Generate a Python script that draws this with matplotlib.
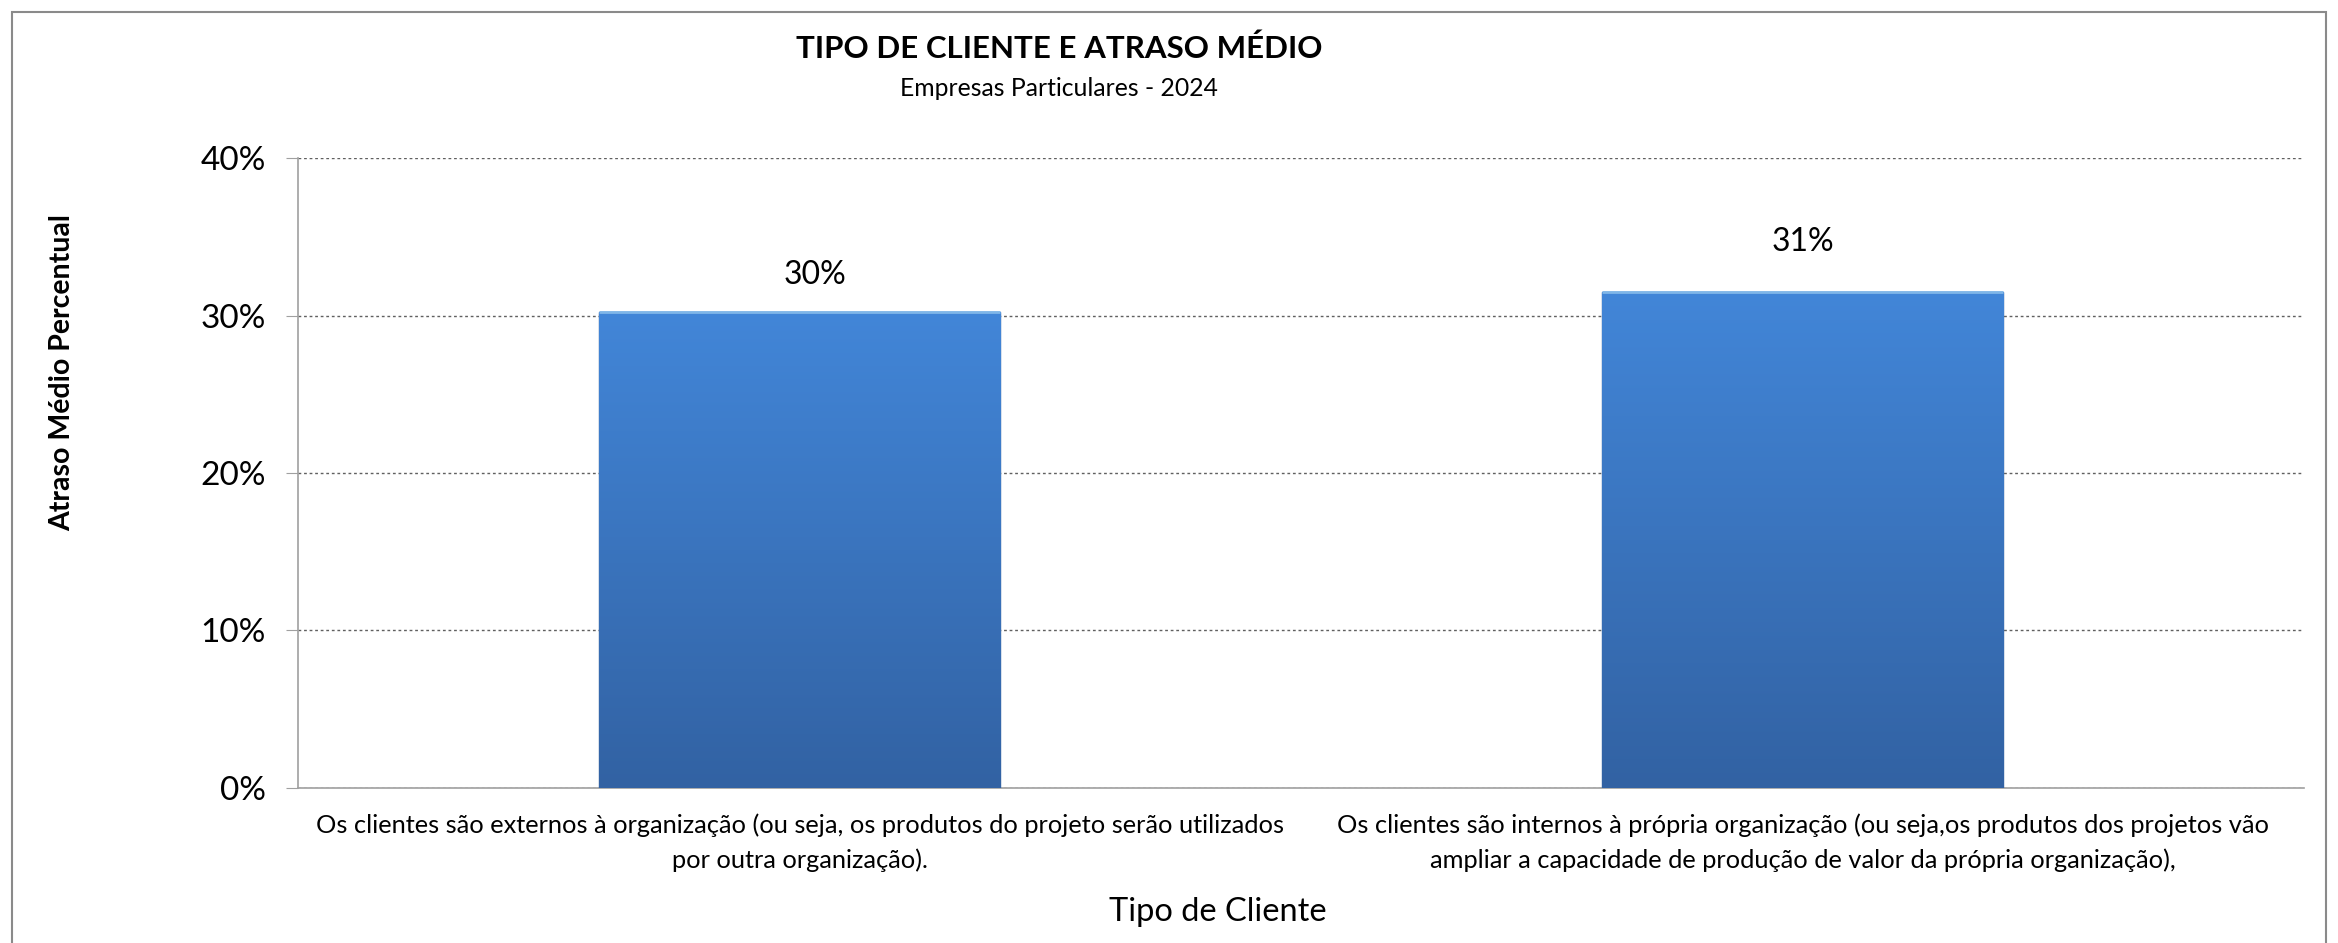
import numpy as np
import matplotlib
matplotlib.use("Agg")
import matplotlib.pyplot as plt
from matplotlib.colors import LinearSegmentedColormap
from matplotlib.patches import Rectangle

categorias = [
    "Os clientes são externos à organização (ou seja, os produtos do projeto serão utilizados\npor outra organização).",
    "Os clientes são internos à própria organização (ou seja,os produtos dos projetos vão\nampliar a capacidade de produção de valor da própria organização),",
]
atraso = [0.302, 0.315]
rotulos = ["30%", "31%"]
yticks = [0, 0.1, 0.2, 0.3, 0.4]

plt.rcParams['font.family'] = ['Lato', 'DejaVu Sans']

fig = plt.figure(figsize=(23.38, 9.43), dpi=100)
ax = fig.add_axes([0.1275, 0.1644, 0.858, 0.668])

x = np.arange(len(categorias))
bars = ax.bar(x, atraso, width=0.4, color='#3f7acb', edgecolor='#2f5f9a', linewidth=1.0, zorder=3)

# vertical gradient inside each bar
grad = LinearSegmentedColormap.from_list('g', ['#3262a3', '#4286d8'])
for b in bars:
    x0, y0 = b.get_x(), b.get_y()
    w, h = b.get_width(), b.get_height()
    im = ax.imshow(np.linspace(0, 1, 256).reshape(-1, 1), cmap=grad, origin='lower',
                   extent=[x0, x0 + w, y0, y0 + h], aspect='auto', zorder=3.5)
    im.set_clip_path(b)
    ax.plot([x0, x0 + w], [y0 + h, y0 + h], color='#7fb6e8', lw=2, zorder=4, solid_capstyle='butt')

# data labels (offsets in points, as placed in the original)
offsets = [(11, 16), (0, 25)]
for b, lab, off in zip(bars, rotulos, offsets):
    ax.annotate(lab, (b.get_x() + b.get_width() / 2, b.get_height()), xytext=off,
                textcoords='offset points', ha='center', va='bottom', fontsize=23)

ax.set_xlim(-0.5, 1.5)
ax.set_ylim(0, 0.4)
ax.set_yticks(yticks)
ax.set_yticklabels([f"{int(round(v * 100))}%" for v in yticks], fontsize=24)
ax.set_xticks(x)
ax.set_xticklabels(categorias, fontsize=18.3, linespacing=1.6)
ax.tick_params(axis='x', length=0, pad=18)
ax.tick_params(axis='y', length=9, color='#a0a0a0', pad=14)
ax.grid(axis='y', linestyle=(0, (2, 2)), color='#606060', linewidth=1.0, zorder=0)
ax.set_axisbelow(True)
for s in ['top', 'right']:
    ax.spines[s].set_visible(False)
for s in ['left', 'bottom']:
    ax.spines[s].set_color('#a0a0a0')
    ax.spines[s].set_linewidth(1.2)

fig.text(1059 / 2338, 1 - 49 / 943, "TIPO DE CLIENTE E ATRASO MÉDIO", ha='center', va='center',
         fontsize=22.5, fontweight='bold')
fig.text(1059 / 2338, 1 - 88 / 943, "Empresas Particulares - 2024", ha='center', va='center', fontsize=17.8)
fig.text(1218 / 2338, 1 - 912 / 943, "Tipo de Cliente", ha='center', va='center', fontsize=23.5)
fig.text(62 / 2338, 1 - 373 / 943, "Atraso Médio Percentual", ha='center', va='center',
         rotation=90, fontsize=20.5, fontweight='bold')

fig.patches.append(Rectangle((12 / 2338, -0.05), 1 - 24 / 2338, 1.05 - 12 / 943, transform=fig.transFigure,
                             fill=False, edgecolor='#8a8a8a', linewidth=1.5))

fig.savefig('out.png', dpi=100)
